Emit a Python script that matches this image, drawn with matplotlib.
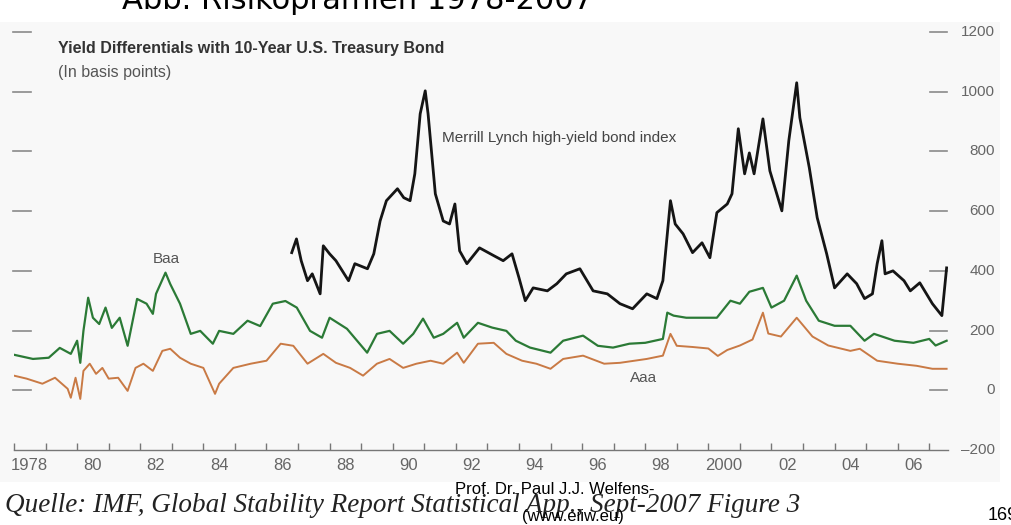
import matplotlib
matplotlib.use("Agg")
import matplotlib.pyplot as plt
import matplotlib.transforms as mtransforms
from matplotlib.patches import Rectangle

# Baa spread (green), basis points
baa_years = [1978.0, 1978.3, 1978.6, 1979.1, 1979.45, 1979.8, 1980.0, 1980.1, 1980.2, 1980.35,
             1980.5, 1980.7, 1980.9, 1981.1, 1981.35, 1981.6, 1981.9, 1982.2, 1982.4, 1982.5,
             1982.8, 1982.95, 1983.26, 1983.6, 1983.9, 1984.3, 1984.5, 1984.95, 1985.4, 1985.8,
             1986.2, 1986.6, 1986.96, 1987.38, 1987.76, 1988.0, 1988.55, 1988.87, 1989.19, 1989.5,
             1989.9, 1990.33, 1990.65, 1990.96, 1991.3, 1991.6, 1992.04, 1992.25, 1992.7, 1993.15,
             1993.6, 1993.9, 1994.35, 1995.0, 1995.4, 1996.03, 1996.5, 1996.98, 1997.5, 1998.0,
             1998.56, 1998.7, 1998.9, 1999.3, 1999.8, 2000.27, 2000.7, 2001.0, 2001.3, 2001.73,
             2002.0, 2002.4, 2002.8, 2003.1, 2003.5, 2004.0, 2004.5, 2004.95, 2005.25, 2005.9,
             2006.5, 2007.0, 2007.2, 2007.55]
baa = [119, 112, 105, 109, 142, 122, 166, 92, 199, 310,
       243, 222, 277, 209, 243, 149, 306, 290, 256, 323,
       394, 356, 290, 189, 199, 156, 199, 189, 233, 215,
       290, 299, 277, 199, 176, 243, 206, 166, 126, 189,
       199, 156, 189, 240, 176, 189, 226, 176, 226, 210,
       199, 166, 143, 126, 166, 183, 149, 143, 156, 159,
       172, 260, 250, 243, 243, 243, 300, 290, 330, 343,
       277, 300, 384, 300, 233, 216, 216, 166, 189, 166,
       159, 172, 150, 166]

# Aaa spread (orange)
aaa_years = [1978.0, 1978.4, 1978.9, 1979.3, 1979.7, 1979.8, 1979.95, 1980.1, 1980.2, 1980.4,
             1980.6, 1980.8, 1981.0, 1981.3, 1981.6, 1981.85, 1982.1, 1982.4, 1982.7, 1982.95,
             1983.26, 1983.6, 1984.0, 1984.37, 1984.5, 1984.95, 1985.5, 1986.0, 1986.45, 1986.85,
             1987.3, 1987.8, 1988.2, 1988.65, 1989.06, 1989.5, 1989.9, 1990.33, 1990.75, 1991.2,
             1991.6, 1992.04, 1992.25, 1992.7, 1993.2, 1993.6, 1994.1, 1994.55, 1995.0, 1995.4,
             1996.03, 1996.7, 1997.2, 1998.05, 1998.56, 1998.8, 1999.0, 1999.5, 2000.0, 2000.3,
             2000.6, 2001.0, 2001.4, 2001.73, 2001.9, 2002.3, 2002.8, 2003.3, 2003.8, 2004.5,
             2004.8, 2005.35, 2006.0, 2006.6, 2007.1, 2007.55]
aaa = [49, 39, 22, 42, 5, -25, 42, -29, 65, 89,
       55, 75, 39, 42, -2, 75, 89, 65, 132, 139,
       109, 89, 75, -12, 22, 75, 89, 99, 156, 149,
       89, 122, 92, 75, 49, 89, 105, 75, 89, 99,
       89, 126, 92, 156, 159, 122, 99, 89, 72, 105,
       116, 89, 92, 105, 116, 189, 149, 145, 140, 115,
       135, 150, 170, 260, 190, 180, 243, 180, 150, 132,
       139, 99, 89, 82, 72, 72]

# Merrill Lynch high-yield bond index (black)
hy_years = [1986.8, 1986.95, 1987.1, 1987.3, 1987.45, 1987.7, 1987.8, 1988.0, 1988.2, 1988.6,
            1988.8, 1989.2, 1989.4, 1989.6, 1989.8, 1990.15, 1990.35, 1990.55, 1990.7, 1990.87,
            1991.03, 1991.12, 1991.35, 1991.6, 1991.8, 1991.97, 1992.12, 1992.35, 1992.75, 1993.2,
            1993.5, 1993.78, 1994.0, 1994.2, 1994.45, 1994.9, 1995.2, 1995.5, 1995.93, 1996.35,
            1996.8, 1997.2, 1997.6, 1998.05, 1998.37, 1998.56, 1998.8, 1998.95, 1999.2, 1999.5,
            1999.8, 2000.05, 2000.27, 2000.6, 2000.75, 2000.95, 2001.15, 2001.3, 2001.45, 2001.73,
            2001.95, 2002.33, 2002.55, 2002.8, 2002.9, 2003.2, 2003.45, 2003.75, 2004.0, 2004.4,
            2004.7, 2004.95, 2005.2, 2005.35, 2005.5, 2005.6, 2005.85, 2006.2, 2006.4, 2006.7,
            2007.1, 2007.4, 2007.55]
hy = [461, 507, 434, 367, 390, 323, 484, 457, 434, 367,
      424, 407, 457, 567, 635, 675, 645, 635, 725, 926,
      1003, 926, 658, 567, 557, 624, 467, 424, 477, 451,
      434, 457, 377, 300, 343, 333, 357, 390, 407, 333,
      323, 290, 273, 323, 307, 367, 635, 557, 524, 461,
      494, 444, 595, 624, 658, 876, 725, 795, 725, 909,
      735, 601, 836, 1030, 913, 745, 578, 457, 343, 390,
      357, 307, 323, 424, 501, 390, 400, 367, 333, 360,
      290, 250, 410]

x_labels = ["1978", "80", "82", "84", "86", "88", "90", "92", "94", "96",
            "98", "2000", "02", "04", "06"]
y_values = [1200, 1000, 800, 600, 400, 200, 0]

W, H = 1011, 525
fig = plt.figure(figsize=(W / 100, H / 100), dpi=100)
fig.patch.set_facecolor("white")

# light backdrop of the pasted chart image
fig.patches.append(Rectangle((0, 1 - 482 / H), 1000 / W, (482 - 22) / H,
                             transform=fig.transFigure, facecolor="#f8f8f8",
                             edgecolor="none", zorder=-10))

ax = fig.add_axes([14 / W, 1 - 450 / H, (948 - 14) / W, (450 - 32) / H])
ax.set_facecolor("none")
ax.set_xlim(1978, 2007.594)
ax.set_ylim(-200, 1200)

ax.plot(baa_years, baa, color="#2b7a36", lw=1.6, zorder=3)
ax.plot(aaa_years, aaa, color="#c97a45", lw=1.4, zorder=3)
ax.plot(hy_years, hy, color="#151515", lw=2.0, zorder=4)

for s in ["top", "left", "right"]:
    ax.spines[s].set_visible(False)
ax.spines["bottom"].set_color("#777777")
ax.spines["bottom"].set_linewidth(1.0)

ax.set_xticks(range(1978, 2008))
ax.set_xticks([y + 0.5 for y in range(1978, 2007, 2)], minor=True)
ax.set_xticklabels([])
ax.set_xticklabels(x_labels, minor=True, family="Liberation Sans", fontsize=12,
                   color="#666666")
ax.tick_params(axis="x", which="major", direction="in", length=5, width=1, color="#777777")
ax.tick_params(axis="x", which="minor", length=0, pad=6)
ax.set_yticks([])

# short dashes on both sides and right-hand labels
blend = mtransforms.blended_transform_factory(ax.transAxes, ax.transData)
for v in y_values:
    ax.axhline(v, xmin=-0.001, xmax=0.0185, color="#8a8a8a", lw=1.2, clip_on=False)
    ax.axhline(v, xmin=0.9807, xmax=0.999, color="#8a8a8a", lw=1.2, clip_on=False)
    ax.text(1.0503, v, str(v), transform=blend, ha="right", va="center",
            fontsize=11, color="#666666", family="Liberation Sans")
ax.text(1.0503, -200, "\u2013200", transform=blend, ha="right", va="center",
        fontsize=11, color="#666666", family="Liberation Sans")

# series labels
ax.text(1982.82, 440, "Baa", ha="center", va="center", fontsize=11, color="#555555",
        family="Liberation Sans")
ax.text(1997.96, 42, "Aaa", ha="center", va="center", fontsize=11, color="#555555",
        family="Liberation Sans")
ax.text(1991.56, 846, "Merrill Lynch high-yield bond index", ha="left", va="center",
        fontsize=11, color="#444444", family="Liberation Sans")

# chart headings
fig.text(58 / W, 1 - 48 / H, "Yield Differentials with 10-Year U.S. Treasury Bond",
         ha="left", va="center", fontsize=11.5, fontweight="bold", color="#333333",
         family="Liberation Sans")
fig.text(58 / W, 1 - 72 / H, "(In basis points)", ha="left", va="center",
         fontsize=11.5, color="#555555", family="Liberation Sans")

# slide title, cut off at the top edge
fig.text(122 / W, 1 - 9 / H, "Abb. Risikoprämien 1978-2007", ha="left", va="baseline",
         fontsize=22, color="black", family="DejaVu Sans")

# source and slide footer
fig.text(5 / W, 1 - 505 / H,
         "Quelle: IMF, Global Stability Report Statistical App., Sept-2007 Figure 3",
         ha="left", va="center", fontsize=19.5, style="italic", color="#222222",
         family="Liberation Serif")
fig.text(455 / W, 1 - 490 / H, "Prof. Dr. Paul J.J. Welfens-", ha="left", va="center",
         fontsize=12, color="black", family="Liberation Sans")
fig.text(573 / W, 1 - 516 / H, "(www.eiiw.eu)", ha="center", va="center",
         fontsize=12, color="black", family="Liberation Sans")
fig.text(988 / W, 1 - 516 / H, "169", ha="left", va="center",
         fontsize=13, color="black", family="Liberation Sans")

fig.savefig("out.png", dpi=100)
